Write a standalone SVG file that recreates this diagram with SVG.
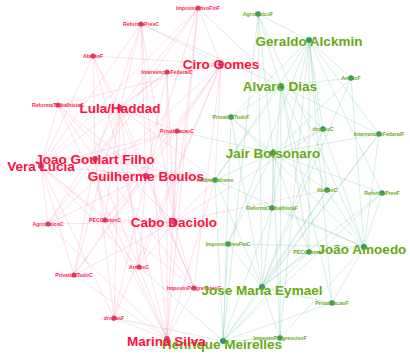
<svg xmlns="http://www.w3.org/2000/svg" width="410" height="360" viewBox="0 0 410 360">
<style>
.er{stroke:#f07c9c;stroke-opacity:.33;stroke-width:.7}
.eg{stroke:#4fb58f;stroke-opacity:.33;stroke-width:.7}
.nr{fill:#c84a6e}
.ng{fill:#2f9a63}
text{font-family:"Liberation Sans",Arial,sans-serif;font-weight:bold;text-anchor:middle}
.cr{fill:#ff1040;font-size:13.5px}
.cg{fill:#66aa14;font-size:13.5px}
.tr{fill:#ff2050;font-size:5.2px}
.tg{fill:#66aa14;font-size:5.2px}
</style>
<rect width="410" height="360" fill="#fff"/>
<g id="connectors">
<g class="er">
<line x1="221" y1="64" x2="198" y2="8"/><line x1="221" y1="64" x2="141" y2="24"/><line x1="221" y1="64" x2="93" y2="56"/><line x1="221" y1="64" x2="167" y2="72"/><line x1="221" y1="64" x2="58" y2="105"/><line x1="221" y1="64" x2="177" y2="131"/><line x1="221" y1="64" x2="48" y2="224"/><line x1="221" y1="64" x2="105" y2="220"/><line x1="221" y1="64" x2="139" y2="267"/><line x1="221" y1="64" x2="74" y2="275"/><line x1="221" y1="64" x2="194" y2="288"/><line x1="221" y1="64" x2="114" y2="318"/><line x1="221" y1="64" x2="215" y2="180"/>
<line x1="120" y1="108" x2="198" y2="8"/><line x1="120" y1="108" x2="141" y2="24"/><line x1="120" y1="108" x2="93" y2="56"/><line x1="120" y1="108" x2="167" y2="72"/><line x1="120" y1="108" x2="58" y2="105"/><line x1="120" y1="108" x2="177" y2="131"/><line x1="120" y1="108" x2="48" y2="224"/><line x1="120" y1="108" x2="105" y2="220"/><line x1="120" y1="108" x2="139" y2="267"/><line x1="120" y1="108" x2="74" y2="275"/><line x1="120" y1="108" x2="194" y2="288"/><line x1="120" y1="108" x2="114" y2="318"/><line x1="120" y1="108" x2="215" y2="180"/>
<line x1="95" y1="159" x2="198" y2="8"/><line x1="95" y1="159" x2="141" y2="24"/><line x1="95" y1="159" x2="93" y2="56"/><line x1="95" y1="159" x2="167" y2="72"/><line x1="95" y1="159" x2="58" y2="105"/><line x1="95" y1="159" x2="177" y2="131"/><line x1="95" y1="159" x2="48" y2="224"/><line x1="95" y1="159" x2="105" y2="220"/><line x1="95" y1="159" x2="139" y2="267"/><line x1="95" y1="159" x2="74" y2="275"/><line x1="95" y1="159" x2="194" y2="288"/><line x1="95" y1="159" x2="114" y2="318"/><line x1="95" y1="159" x2="215" y2="180"/>
<line x1="41" y1="166" x2="198" y2="8"/><line x1="41" y1="166" x2="141" y2="24"/><line x1="41" y1="166" x2="93" y2="56"/><line x1="41" y1="166" x2="167" y2="72"/><line x1="41" y1="166" x2="58" y2="105"/><line x1="41" y1="166" x2="177" y2="131"/><line x1="41" y1="166" x2="48" y2="224"/><line x1="41" y1="166" x2="105" y2="220"/><line x1="41" y1="166" x2="139" y2="267"/><line x1="41" y1="166" x2="74" y2="275"/><line x1="41" y1="166" x2="194" y2="288"/><line x1="41" y1="166" x2="114" y2="318"/><line x1="41" y1="166" x2="215" y2="180"/>
<line x1="146" y1="176" x2="198" y2="8"/><line x1="146" y1="176" x2="141" y2="24"/><line x1="146" y1="176" x2="93" y2="56"/><line x1="146" y1="176" x2="167" y2="72"/><line x1="146" y1="176" x2="58" y2="105"/><line x1="146" y1="176" x2="177" y2="131"/><line x1="146" y1="176" x2="48" y2="224"/><line x1="146" y1="176" x2="105" y2="220"/><line x1="146" y1="176" x2="139" y2="267"/><line x1="146" y1="176" x2="74" y2="275"/><line x1="146" y1="176" x2="194" y2="288"/><line x1="146" y1="176" x2="114" y2="318"/><line x1="146" y1="176" x2="215" y2="180"/>
<line x1="174" y1="222" x2="198" y2="8"/><line x1="174" y1="222" x2="141" y2="24"/><line x1="174" y1="222" x2="327" y2="190"/><line x1="174" y1="222" x2="167" y2="72"/><line x1="174" y1="222" x2="58" y2="105"/><line x1="174" y1="222" x2="177" y2="131"/><line x1="174" y1="222" x2="48" y2="224"/><line x1="174" y1="222" x2="105" y2="220"/><line x1="174" y1="222" x2="139" y2="267"/><line x1="174" y1="222" x2="74" y2="275"/><line x1="174" y1="222" x2="194" y2="288"/><line x1="174" y1="222" x2="323" y2="129"/><line x1="174" y1="222" x2="215" y2="180"/>
<line x1="167" y1="339" x2="198" y2="8"/><line x1="167" y1="339" x2="141" y2="24"/><line x1="167" y1="339" x2="93" y2="56"/><line x1="167" y1="339" x2="167" y2="72"/><line x1="167" y1="339" x2="58" y2="105"/><line x1="167" y1="339" x2="177" y2="131"/><line x1="167" y1="339" x2="48" y2="224"/><line x1="167" y1="339" x2="105" y2="220"/><line x1="167" y1="339" x2="139" y2="267"/><line x1="167" y1="339" x2="74" y2="275"/><line x1="167" y1="339" x2="194" y2="288"/><line x1="167" y1="339" x2="114" y2="318"/><line x1="167" y1="339" x2="215" y2="180"/>
</g>
<g class="eg">
<line x1="309" y1="40" x2="228" y2="244"/><line x1="309" y1="40" x2="382" y2="193"/><line x1="309" y1="40" x2="327" y2="190"/><line x1="309" y1="40" x2="379" y2="134"/><line x1="309" y1="40" x2="272" y2="208"/><line x1="309" y1="40" x2="332" y2="303"/><line x1="309" y1="40" x2="258" y2="14"/><line x1="309" y1="40" x2="309" y2="252"/><line x1="309" y1="40" x2="351" y2="78"/><line x1="309" y1="40" x2="231" y2="117"/><line x1="309" y1="40" x2="280" y2="338"/><line x1="309" y1="40" x2="323" y2="129"/><line x1="309" y1="40" x2="215" y2="180"/>
<line x1="281" y1="86" x2="198" y2="8"/><line x1="281" y1="86" x2="141" y2="24"/><line x1="281" y1="86" x2="327" y2="190"/><line x1="281" y1="86" x2="379" y2="134"/><line x1="281" y1="86" x2="272" y2="208"/><line x1="281" y1="86" x2="332" y2="303"/><line x1="281" y1="86" x2="258" y2="14"/><line x1="281" y1="86" x2="309" y2="252"/><line x1="281" y1="86" x2="351" y2="78"/><line x1="281" y1="86" x2="231" y2="117"/><line x1="281" y1="86" x2="280" y2="338"/><line x1="281" y1="86" x2="323" y2="129"/><line x1="281" y1="86" x2="215" y2="180"/>
<line x1="273" y1="153" x2="228" y2="244"/><line x1="273" y1="153" x2="382" y2="193"/><line x1="273" y1="153" x2="327" y2="190"/><line x1="273" y1="153" x2="379" y2="134"/><line x1="273" y1="153" x2="272" y2="208"/><line x1="273" y1="153" x2="177" y2="131"/><line x1="273" y1="153" x2="258" y2="14"/><line x1="273" y1="153" x2="309" y2="252"/><line x1="273" y1="153" x2="351" y2="78"/><line x1="273" y1="153" x2="231" y2="117"/><line x1="273" y1="153" x2="280" y2="338"/><line x1="273" y1="153" x2="323" y2="129"/><line x1="273" y1="153" x2="215" y2="180"/>
<line x1="364" y1="247" x2="228" y2="244"/><line x1="364" y1="247" x2="382" y2="193"/><line x1="364" y1="247" x2="327" y2="190"/><line x1="364" y1="247" x2="379" y2="134"/><line x1="364" y1="247" x2="272" y2="208"/><line x1="364" y1="247" x2="332" y2="303"/><line x1="364" y1="247" x2="258" y2="14"/><line x1="364" y1="247" x2="309" y2="252"/><line x1="364" y1="247" x2="351" y2="78"/><line x1="364" y1="247" x2="231" y2="117"/><line x1="364" y1="247" x2="280" y2="338"/><line x1="364" y1="247" x2="323" y2="129"/><line x1="364" y1="247" x2="215" y2="180"/>
<line x1="262" y1="287" x2="228" y2="244"/><line x1="262" y1="287" x2="382" y2="193"/><line x1="262" y1="287" x2="327" y2="190"/><line x1="262" y1="287" x2="379" y2="134"/><line x1="262" y1="287" x2="272" y2="208"/><line x1="262" y1="287" x2="332" y2="303"/><line x1="262" y1="287" x2="258" y2="14"/><line x1="262" y1="287" x2="309" y2="252"/><line x1="262" y1="287" x2="351" y2="78"/><line x1="262" y1="287" x2="231" y2="117"/><line x1="262" y1="287" x2="280" y2="338"/><line x1="262" y1="287" x2="323" y2="129"/><line x1="262" y1="287" x2="215" y2="180"/>
<line x1="223" y1="341" x2="228" y2="244"/><line x1="223" y1="341" x2="382" y2="193"/><line x1="223" y1="341" x2="327" y2="190"/><line x1="223" y1="341" x2="379" y2="134"/><line x1="223" y1="341" x2="272" y2="208"/><line x1="223" y1="341" x2="332" y2="303"/><line x1="223" y1="341" x2="258" y2="14"/><line x1="223" y1="341" x2="309" y2="252"/><line x1="223" y1="341" x2="139" y2="267"/><line x1="223" y1="341" x2="231" y2="117"/><line x1="223" y1="341" x2="280" y2="338"/><line x1="223" y1="341" x2="114" y2="318"/><line x1="223" y1="341" x2="215" y2="180"/>
</g>
</g>
<g id="topics">
<g id="ImpostoAtivoFinF"><circle class="nr" cx="198" cy="8" r="2.6"/><text class="tr" x="198" y="9.8">ImpostoAtivoFinF</text></g>
<g id="ReformaPrevC"><circle class="nr" cx="141" cy="24" r="2.6"/><text class="tr" x="141" y="25.8">ReformaPrevC</text></g>
<g id="AbortoF"><circle class="nr" cx="93" cy="56" r="2.6"/><text class="tr" x="93" y="57.8">AbortoF</text></g>
<g id="IntervencaoFederalC"><circle class="nr" cx="167" cy="72" r="2.6"/><text class="tr" x="167" y="73.8">IntervencaoFederalC</text></g>
<g id="ReformaTrabalhistaC"><circle class="nr" cx="58" cy="105" r="2.6"/><text class="tr" x="58" y="106.8">ReformaTrabalhistaC</text></g>
<g id="PrivatizacaoC"><circle class="nr" cx="177" cy="131" r="2.6"/><text class="tr" x="177" y="132.8">PrivatizacaoC</text></g>
<g id="AgrotoxicoC"><circle class="nr" cx="48" cy="224" r="2.6"/><text class="tr" x="48" y="225.8">AgrotoxicoC</text></g>
<g id="PECGastosC"><circle class="nr" cx="105" cy="220" r="2.6"/><text class="tr" x="105" y="221.8">PECGastosC</text></g>
<g id="ArmasC"><circle class="nr" cx="139" cy="267" r="2.6"/><text class="tr" x="139" y="268.8">ArmasC</text></g>
<g id="PrivatizaTudoC"><circle class="nr" cx="74" cy="275" r="2.6"/><text class="tr" x="74" y="276.8">PrivatizaTudoC</text></g>
<g id="ImpostoProgressivoC"><circle class="nr" cx="194" cy="288" r="2.6"/><text class="tr" x="194" y="289.8">ImpostoProgressivoC</text></g>
<g id="drogasF"><circle class="nr" cx="114" cy="318" r="2.6"/><text class="tr" x="114" y="319.8">drogasF</text></g>
<g id="AgrotoxicoF"><circle class="ng" cx="258" cy="14" r="2.8"/><text class="tg" x="258" y="15.8">AgrotoxicoF</text></g>
<g id="ArmasF"><circle class="ng" cx="351" cy="78" r="2.8"/><text class="tg" x="351" y="79.8">ArmasF</text></g>
<g id="PrivatizaTudoF"><circle class="ng" cx="231" cy="117" r="2.8"/><text class="tg" x="231" y="118.8">PrivatizaTudoF</text></g>
<g id="drogasC"><circle class="ng" cx="323" cy="129" r="2.8"/><text class="tg" x="323" y="130.8">drogasC</text></g>
<g id="IntervencaoFederalF"><circle class="ng" cx="379" cy="134" r="2.8"/><text class="tg" x="379" y="135.8">IntervencaoFederalF</text></g>
<g id="Ambientalismo"><circle class="ng" cx="215" cy="180" r="2.8"/><text class="tg" x="215" y="181.8">Ambientalismo</text></g>
<g id="AbortoC"><circle class="ng" cx="327" cy="190" r="2.8"/><text class="tg" x="327" y="191.8">AbortoC</text></g>
<g id="ReformaPrevF"><circle class="ng" cx="382" cy="193" r="2.8"/><text class="tg" x="382" y="194.8">ReformaPrevF</text></g>
<g id="ReformaTrabalhistaF"><circle class="ng" cx="272" cy="208" r="2.8"/><text class="tg" x="272" y="209.8">ReformaTrabalhistaF</text></g>
<g id="ImpostoAtivoFinC"><circle class="ng" cx="228" cy="244" r="2.8"/><text class="tg" x="228" y="245.8">ImpostoAtivoFinC</text></g>
<g id="PECGastosF"><circle class="ng" cx="309" cy="252" r="2.8"/><text class="tg" x="309" y="253.8">PECGastosF</text></g>
<g id="PrivatizacaoF"><circle class="ng" cx="332" cy="303" r="2.8"/><text class="tg" x="332" y="304.8">PrivatizacaoF</text></g>
<g id="ImpostoProgressivoF"><circle class="ng" cx="280" cy="338" r="2.8"/><text class="tg" x="280" y="339.8">ImpostoProgressivoF</text></g>
</g>
<g id="candidates">
<g id="CiroGomes"><circle class="nr" cx="221" cy="64" r="3"/><text class="cr" x="221" y="68.8">Ciro Gomes</text></g>
<g id="LulaHaddad"><circle class="nr" cx="120" cy="108" r="3"/><text class="cr" x="120" y="112.8">Lula/Haddad</text></g>
<g id="JoaoGoulartFilho"><circle class="nr" cx="95" cy="159" r="3"/><text class="cr" x="95" y="163.8">Joao Goulart Filho</text></g>
<g id="VeraLucia"><circle class="nr" cx="41" cy="166" r="3"/><text class="cr" x="41" y="170.8">Vera Lucia</text></g>
<g id="GuilhermeBoulos"><circle class="nr" cx="146" cy="176" r="3"/><text class="cr" x="146" y="180.8">Guilherme Boulos</text></g>
<g id="CaboDaciolo"><circle class="nr" cx="174" cy="222" r="3"/><text class="cr" x="174" y="226.8">Cabo Daciolo</text></g>
<g id="GeraldoAlckmin"><circle class="ng" cx="309" cy="40" r="3"/><text class="cg" x="309" y="45.8">Geraldo Alckmin</text></g>
<g id="AlvaroDias"><circle class="ng" cx="281" cy="86" r="3"/><text class="cg" x="280" y="90.8">Alvaro Dias</text></g>
<g id="JairBolsonaro"><circle class="ng" cx="273" cy="153" r="3"/><text class="cg" x="273" y="157.8">Jair Bolsonaro</text></g>
<g id="JoaoAmoedo"><circle class="ng" cx="364" cy="247" r="3"/><text class="cg" x="362" y="253.8">João Amoedo</text></g>
<g id="JoseMariaEymael"><circle class="ng" cx="262" cy="287" r="3"/><text class="cg" x="262" y="294.8">Jose Maria Eymael</text></g>
<g id="HenriqueMeirelles"><circle class="ng" cx="223" cy="341" r="3"/><text class="cg" x="222" y="348.8">Henrique Meirelles</text></g>
<g id="MarinaSilva"><circle class="nr" cx="167" cy="339" r="3"/><text class="cr" x="166.5" y="345.8">Marina Silva</text></g>
</g>
</svg>
